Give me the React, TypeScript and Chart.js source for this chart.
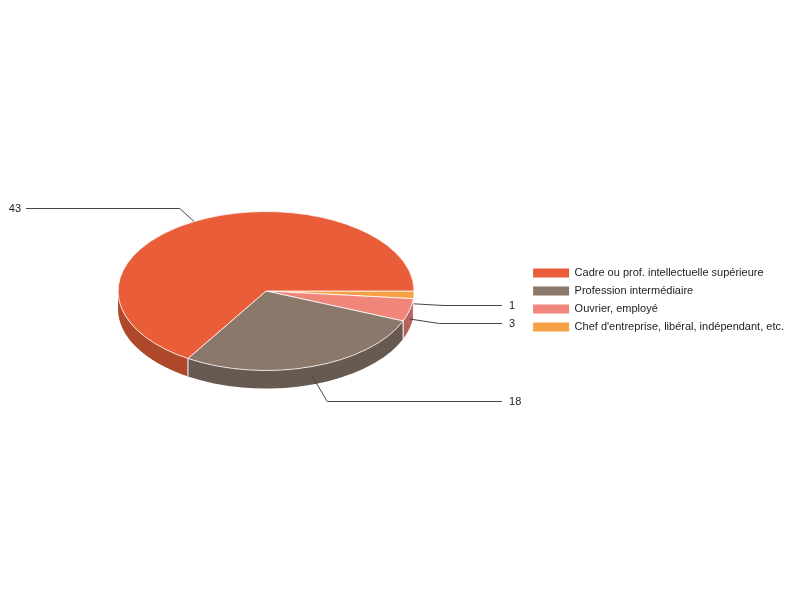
import { useEffect, useRef } from 'react';
import { Chart, registerables } from 'chart.js';

Chart.register(...registerables);

// Legend order (as listed on the right)
const categories = [
  'Cadre ou prof. intellectuelle supérieure',
  'Profession intermédiaire',
  'Ouvrier, employé',
  "Chef d'entreprise, libéral, indépendant, etc.",
];
const counts = [43, 18, 3, 1];
const palette = ['#e95e38', '#8a786b', '#f0857a', '#f6a146'];

const DEPTH = 18; // thickness of the pie, px
const TILT = 0.537; // vertical squash of the top face

function shade(hex: string, f: number) {
  const n = parseInt(hex.slice(1), 16);
  const r = Math.round(((n >> 16) & 255) * f);
  const g = Math.round(((n >> 8) & 255) * f);
  const b = Math.round((n & 255) * f);
  return `rgb(${r},${g},${b})`;
}

const pie3d = {
  id: 'pie3d',
  beforeDatasetsDraw(chart: any) {
    const arcs = chart.getDatasetMeta(0).data;
    if (!arcs.length) return;
    const ctx = chart.ctx as CanvasRenderingContext2D;
    const cx = arcs[0].x;
    const cy0 = arcs[0].y;
    const rx = arcs[0].outerRadius;
    const ry = rx * TILT;
    const cy = cy0 - DEPTH / 2;
    const colors = chart.data.datasets[0].backgroundColor as string[];

    ctx.save();
    // side walls, front half only
    arcs.forEach((a: any, i: number) => {
      const s = a.startAngle;
      const e = a.endAngle;
      for (const base of [0, Math.PI * 2]) {
        const a0 = Math.max(s, base);
        const a1 = Math.min(e, base + Math.PI);
        if (a1 <= a0) continue;
        ctx.beginPath();
        ctx.ellipse(cx, cy, rx, ry, 0, a0, a1, false);
        ctx.ellipse(cx, cy + DEPTH, rx, ry, 0, a1, a0, true);
        ctx.closePath();
        ctx.fillStyle = shade(colors[i], 0.75);
        ctx.fill();
      }
    });
    // white seams between slices on the wall
    ctx.strokeStyle = '#ffffff';
    ctx.lineWidth = 1;
    arcs.forEach((a: any) => {
      const t = a.startAngle % (Math.PI * 2);
      if (t <= 0.01 || t >= Math.PI - 0.01) return;
      const x = cx + rx * Math.cos(t);
      const y = cy + ry * Math.sin(t);
      ctx.beginPath();
      ctx.moveTo(x, y);
      ctx.lineTo(x, y + DEPTH);
      ctx.stroke();
    });
    ctx.restore();

    // squash the top face
    ctx.save();
    ctx.translate(cx, cy);
    ctx.scale(1, TILT);
    ctx.translate(-cx, -cy0);
  },
  afterDatasetsDraw(chart: any) {
    const ctx = chart.ctx as CanvasRenderingContext2D;
    ctx.restore();

    const arcs = chart.getDatasetMeta(0).data;
    if (!arcs.length) return;
    const values = chart.data.datasets[0].data as number[];
    const cx = arcs[0].x;
    const rx = arcs[0].outerRadius;
    const ry = rx * TILT;
    const cy = arcs[0].y - DEPTH / 2;
    const leftX = chart.chartArea.left + 20;
    const rightX = chart.legend.left - 24;

    ctx.save();
    ctx.strokeStyle = '#444444';
    ctx.lineWidth = 1;
    ctx.fillStyle = '#222222';
    ctx.font = '11px "Liberation Sans", Arial, sans-serif';
    ctx.textBaseline = 'middle';
    arcs.forEach((a: any, i: number) => {
      const mid = (a.startAngle + a.endAngle) / 2;
      const ux = Math.cos(mid) * rx;
      const uy = Math.sin(mid) * ry;
      const front = Math.sin(mid) > 0;
      const px = cx + ux;
      const py = cy + uy + (front ? DEPTH / 2 : 0);
      const len = Math.hypot(ux, uy);
      const lead = front ? 30 : 20;
      const ex = px + (ux / len) * lead;
      const ey = Math.round(py + (uy / len) * lead) + 0.5;
      const right = Math.cos(mid) >= 0;
      const endX = right ? rightX : leftX;
      ctx.beginPath();
      ctx.moveTo(px, py);
      ctx.lineTo(ex, ey);
      ctx.lineTo(endX, ey);
      ctx.stroke();
      ctx.textAlign = right ? 'left' : 'right';
      ctx.fillText(String(values[i]), right ? endX + 7 : endX - 5, ey);
    });
    ctx.restore();
  },
};

export default function App() {
  const canvasRef = useRef<HTMLCanvasElement>(null);
  const chartRef = useRef<Chart | null>(null);

  useEffect(() => {
    if (!canvasRef.current) return;
    if (chartRef.current) chartRef.current.destroy();

    // slices run clockwise from 3 o'clock in reverse legend order
    const order = categories.map((_, i) => i).reverse();

    chartRef.current = new Chart(canvasRef.current, {
      type: 'pie',
      data: {
        labels: order.map(i => categories[i]),
        datasets: [{
          data: order.map(i => counts[i]),
          backgroundColor: order.map(i => palette[i]),
          borderColor: '#ffffff',
          borderWidth: 1,
        }],
      },
      options: {
        responsive: false,
        animation: false,
        events: [],
        rotation: 90,
        radius: 148,
        layout: { padding: { left: 6, right: 6 } },
        plugins: {
          tooltip: { enabled: false },
          legend: {
            position: 'right',
            reverse: true,
            labels: {
              boxWidth: 36,
              boxHeight: 9,
              padding: 7,
              color: '#222222',
              font: { family: '"Liberation Sans", Arial, sans-serif', size: 11 },
              generateLabels: (chart: any) =>
                Chart.overrides.pie.plugins.legend.labels
                  .generateLabels(chart)
                  .map((item: any) => ({ ...item, lineWidth: 0, strokeStyle: item.fillStyle })),
            },
          },
        },
      } as any,
      plugins: [pie3d],
    });

    return () => {
      if (chartRef.current) {
        chartRef.current.destroy();
        chartRef.current = null;
      }
    };
  }, []);

  return (
    <div style={{ position: 'fixed', left: 0, top: 0, width: 800, height: 600, background: '#fff' }}>
      <canvas ref={canvasRef} width={800} height={600}></canvas>
    </div>
  );
}
